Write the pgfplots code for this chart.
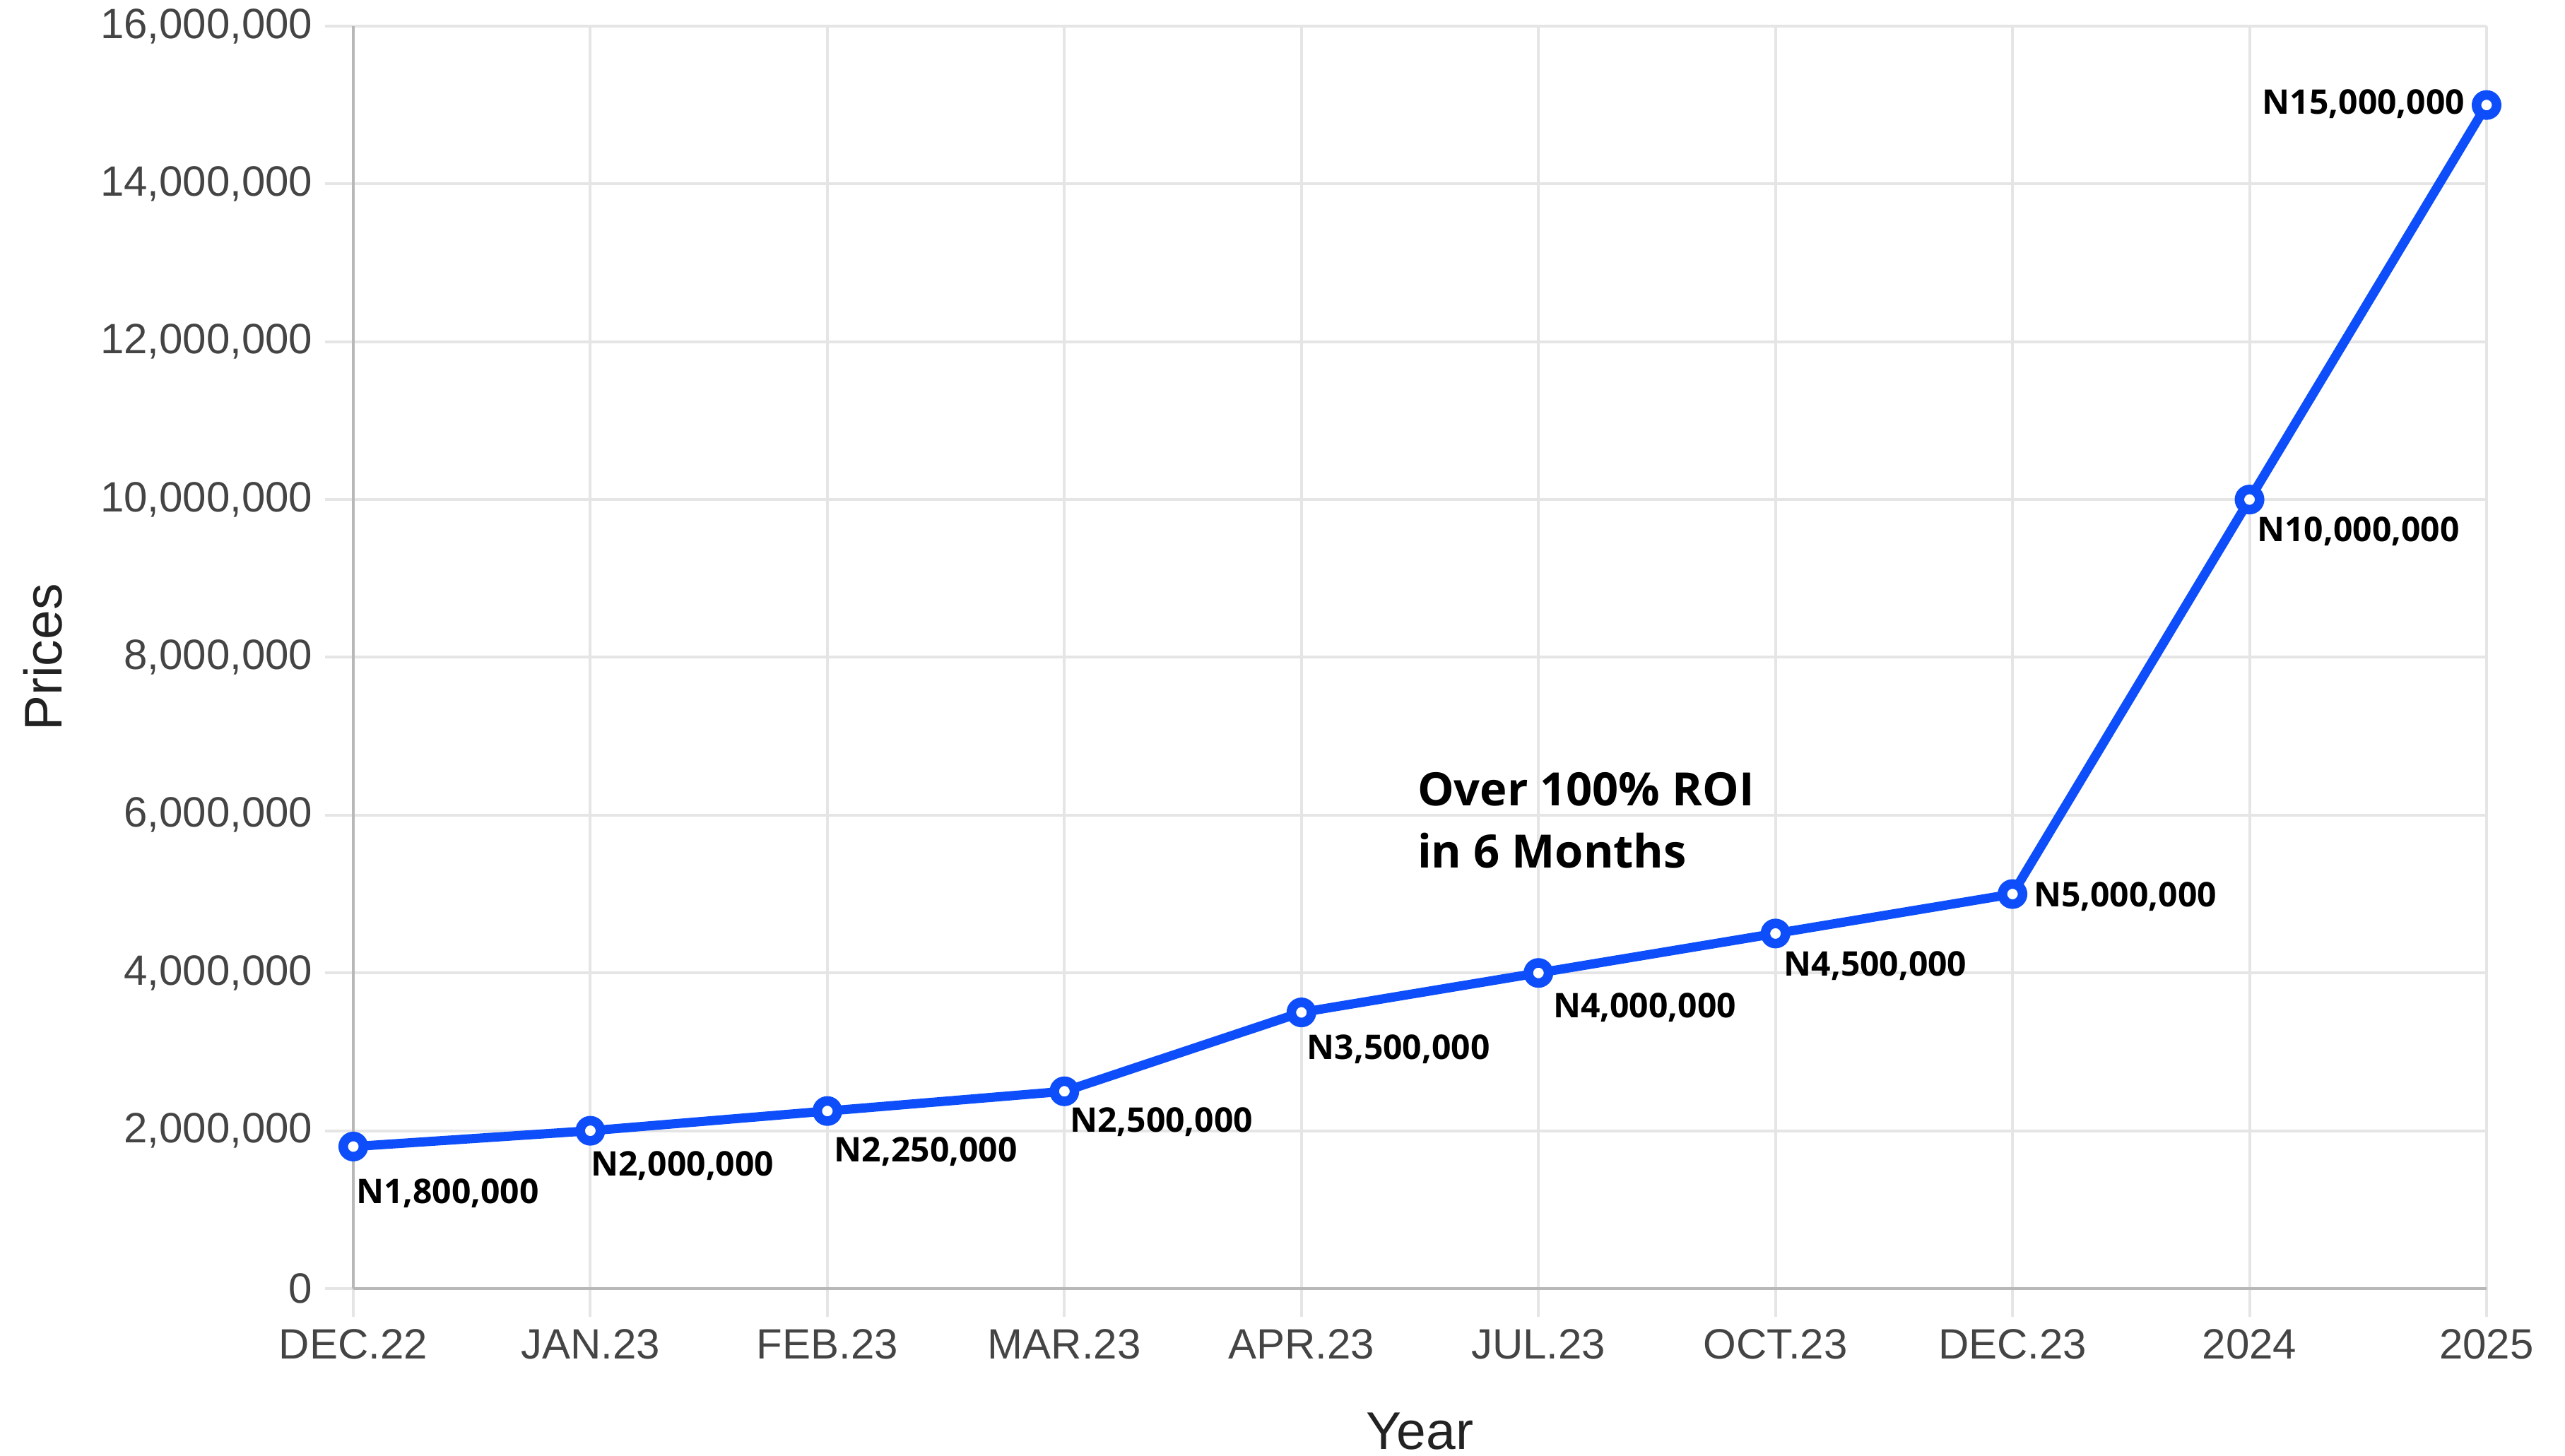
\documentclass[border=0pt]{standalone}
\usepackage{fontspec}
\setmainfont{Liberation Sans}
\newfontfamily\opensans{Open Sans}
\usepackage{pgfplots}
\pgfplotsset{compat=1.18}
\definecolor{lineblue}{RGB}{13,78,250}
\definecolor{gridc}{RGB}{229,229,229}
\definecolor{axisc}{RGB}{184,184,184}
\definecolor{tickc}{RGB}{68,68,68}
\definecolor{titlec}{RGB}{34,34,34}
\tikzset{lab/.style={font=\opensans\bfseries\fontsize{9.6}{11}\selectfont, inner sep=0pt, text=black}}
\begin{document}
\begin{tikzpicture}
\useasboundingbox (0,0) rectangle (726pt,412.2pt);
\begin{axis}[
  at={(100pt,47.4pt)}, anchor=south west,
  scale only axis, width=603.8pt, height=357.4pt,
  xmin=0, xmax=9, ymin=0, ymax=16000000,
  clip=false,
  axis lines=left, axis line style={-, draw=axisc, line width=0.9pt},
  xtick={0,1,2,3,4,5,6,7,8,9},
  xticklabels={DEC.22,JAN.23,FEB.23,MAR.23,APR.23,JUL.23,OCT.23,DEC.23,2024,2025},
  ytick={0,2000000,4000000,6000000,8000000,10000000,12000000,14000000,16000000},
  yticklabels={0,{2,000,000},{4,000,000},{6,000,000},{8,000,000},{10,000,000},{12,000,000},{14,000,000},{16,000,000}},
  scaled y ticks=false,
  grid=major, major grid style={draw=gridc, line width=0.8pt},
  tick align=outside, major tick length=8pt, tick style={draw=gridc, line width=0.8pt},
  tick label style={font=\fontsize{12}{14}\selectfont, text=tickc},
]
\addplot[lineblue, line width=2.6pt, mark=*, mark size=2.85pt,
  mark options={fill=white, draw=lineblue, line width=2.7pt}] coordinates {
  (0,1800000) (1,2000000) (2,2250000) (3,2500000) (4,3500000)
  (5,4000000) (6,4500000) (7,5000000) (8,10000000) (9,15000000)
};
\node[lab, anchor=base west, xshift=0.6pt, yshift=-16.2pt] at (axis cs:0,1800000) {N1,800,000};
\node[lab, anchor=base west, xshift=0pt, yshift=-12.8pt] at (axis cs:1,2000000) {N2,000,000};
\node[lab, anchor=base west, xshift=1.8pt, yshift=-14.4pt] at (axis cs:2,2250000) {N2,250,000};
\node[lab, anchor=base west, xshift=1.4pt, yshift=-11.5pt] at (axis cs:3,2500000) {N2,500,000};
\node[lab, anchor=base west, xshift=1.4pt, yshift=-13.2pt] at (axis cs:4,3500000) {N3,500,000};
\node[lab, anchor=base west, xshift=4pt, yshift=-12.6pt] at (axis cs:5,4000000) {N4,000,000};
\node[lab, anchor=base west, xshift=2.2pt, yshift=-12pt] at (axis cs:6,4500000) {N4,500,000};
\node[lab, anchor=base west, xshift=5.8pt, yshift=-3.6pt] at (axis cs:7,5000000) {N5,000,000};
\node[lab, anchor=base west, xshift=2pt, yshift=-11.8pt] at (axis cs:8,10000000) {N10,000,000};
\node[lab, anchor=base east, xshift=-6pt, yshift=-2.5pt] at (axis cs:9,15000000) {N15,000,000};
\node[anchor=base west, inner sep=0pt, font=\opensans\bfseries\fontsize{13}{15}\selectfont] at (axis cs:4.487,6124000) {Over 100\% ROI};
\node[anchor=base west, inner sep=0pt, font=\opensans\bfseries\fontsize{13}{15}\selectfont] at (axis cs:4.487,5336000) {in 6 Months};
\end{axis}
\node[rotate=90, anchor=base, inner sep=0pt, font=\fontsize{15}{18}\selectfont, text=titlec] at (17.6pt,226.1pt) {Prices};
\node[anchor=base, inner sep=0pt, font=\fontsize{15}{18}\selectfont, text=titlec] at (401.9pt,1.8pt) {Year};
\end{tikzpicture}
\end{document}
